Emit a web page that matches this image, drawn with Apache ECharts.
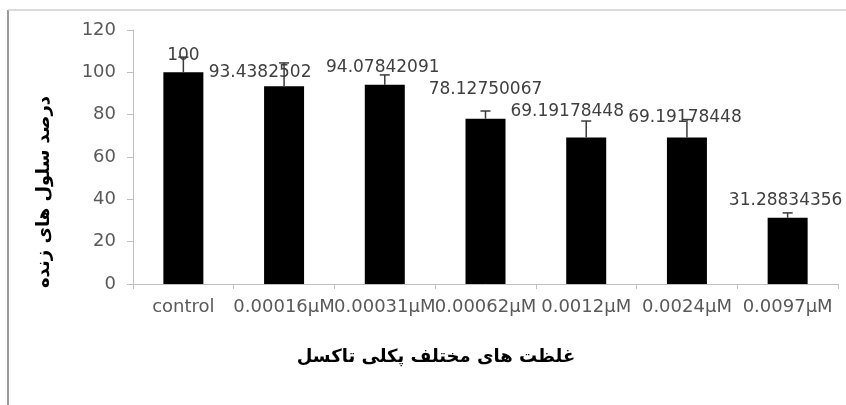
<!DOCTYPE html>
<html>
<head>
<meta charset="utf-8">
<script src="https://cdn.jsdelivr.net/npm/echarts@6/dist/echarts.min.js"></script>
<style>
html,body{margin:0;padding:0;background:#fff;}
#chart{width:846px;height:405px;}
</style>
</head>
<body>
<div id="chart"></div>
<script>
var categories = ['control', '0.00016µM', '0.00031µM', '0.00062µM', '0.0012µM', '0.0024µM', '0.0097µM'];
var viability = [100, 93.4382502, 94.07842091, 78.12750067, 69.19178448, 69.19178448, 31.28834356];
var errors = [7.2, 11.0, 4.7, 3.6, 7.8, 8.5, 2.3];
var yTicks = [0, 20, 40, 60, 80, 100, 120];
var yAxisTitle = 'درصد سلول های زنده';
var xAxisTitle = 'غلظت های مختلف پکلی تاکسل';

// label placement tweaks (layout only)
var labelShift = [[0, -6], [-24, -3], [-2, -7], [0, -19], [-19, -15], [-2, -9], [-2, -7]];

var chart = echarts.init(document.getElementById('chart'), null, {renderer: 'canvas'});
var font = 'DejaVu Sans';

var option = {
  animation: false,
  backgroundColor: '#ffffff',
  grid: {left: 133, right: 8, top: 30, bottom: 121, containLabel: false},
  xAxis: {
    type: 'category',
    data: categories,
    axisLine: {lineStyle: {color: '#bfbfbf', width: 1}},
    axisTick: {show: true, alignWithLabel: false, length: 5, lineStyle: {color: '#bfbfbf'}},
    axisLabel: {color: '#595959', fontFamily: font, fontSize: 18, margin: 14, interval: 0}
  },
  yAxis: {
    type: 'value',
    min: yTicks[0],
    max: yTicks[yTicks.length - 1],
    interval: yTicks[1] - yTicks[0],
    splitLine: {show: false},
    axisLine: {show: true, lineStyle: {color: '#bfbfbf', width: 1}},
    axisTick: {show: true, length: 6, lineStyle: {color: '#bfbfbf'}},
    axisLabel: {color: '#595959', fontFamily: font, fontSize: 18, margin: 17}
  },
  series: [
    {
      type: 'bar',
      barWidth: 40,
      itemStyle: {color: '#000000'},
      data: viability.map(function (v, i) {
        return {
          value: v,
          label: {offset: labelShift[i]}
        };
      }),
      label: {
        show: true,
        position: 'top',
        distance: 2,
        color: '#404040',
        fontFamily: font,
        fontSize: 17,
        formatter: function (p) { return String(p.value); }
      },
      z: 2
    },
    {
      type: 'custom',
      data: viability.map(function (v, i) { return [i, v, errors[i]]; }),
      renderItem: function (params, api) {
        var x = api.value(0), v = api.value(1), e = api.value(2);
        var p0 = api.coord([x, v]);
        var p1 = api.coord([x, v + e]);
        var hw = 5;
        return {
          type: 'group',
          children: [
            {type: 'line', shape: {x1: p0[0], y1: p0[1], x2: p1[0], y2: p1[1]}, style: {stroke: '#3a3a3a', lineWidth: 1.5}},
            {type: 'line', shape: {x1: p1[0] - hw, y1: p1[1], x2: p1[0] + hw, y2: p1[1]}, style: {stroke: '#3a3a3a', lineWidth: 1.5}}
          ]
        };
      },
      z: 3
    }
  ],
  graphic: [
    {type: 'line', shape: {x1: 8, y1: 10, x2: 8, y2: 405}, style: {stroke: '#9a9a9a', lineWidth: 2}},
    {type: 'line', shape: {x1: 8, y1: 10, x2: 846, y2: 10}, style: {stroke: '#cfcfcf', lineWidth: 1.5}},
    {
      type: 'text',
      x: 44, y: 192,
      rotation: Math.PI / 2,
      style: {
        text: yAxisTitle,
        fill: '#000000',
        font: 'bold 18px "DejaVu Sans"',
        textAlign: 'center',
        textVerticalAlign: 'middle'
      }
    },
    {
      type: 'text',
      x: 436, y: 357,
      style: {
        text: xAxisTitle,
        fill: '#000000',
        font: 'bold 18px "DejaVu Sans"',
        textAlign: 'center',
        textVerticalAlign: 'middle'
      }
    }
  ]
};
chart.setOption(option);
</script>
</body>
</html>
